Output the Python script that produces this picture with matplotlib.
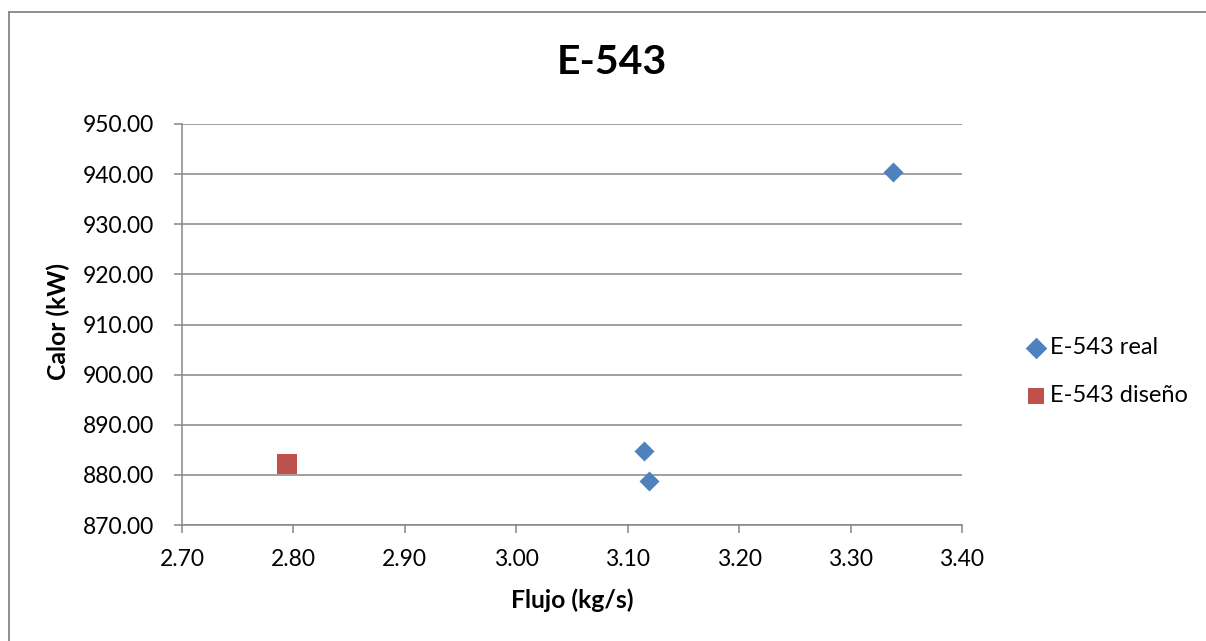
import matplotlib
matplotlib.use("Agg")
import matplotlib.pyplot as plt
from matplotlib.lines import Line2D

# Heat duty vs. mass flow for exchanger E-543
title = "E-543"
x_label = "Flujo (kg/s)"
y_label = "Calor (kW)"

real_label = "E-543 real"
real_flow = [3.338, 3.115, 3.119]
real_heat = [940.5, 884.8, 878.7]

design_label = "E-543 diseño"
design_flow = [2.794]
design_heat = [882.1]

x_ticks = [2.70, 2.80, 2.90, 3.00, 3.10, 3.20, 3.30, 3.40]
y_ticks = [870, 880, 890, 900, 910, 920, 930, 940, 950]

BLUE = "#4F81BD"
RED = "#C0504D"
GRAY = "#868686"

plt.rcParams["font.family"] = ["Lato", "DejaVu Sans"]

W, H = 1206, 641
fig = plt.figure(figsize=(W / 100, H / 100), dpi=100)
fig.patch.set_facecolor("white")

# chart frame (left and top edges)
fig.add_artist(Line2D([8.5 / W, 8.5 / W], [0, 1 - 11.5 / H], transform=fig.transFigure,
                      color=GRAY, lw=1.3))
fig.add_artist(Line2D([8.5 / W, 1], [1 - 11.5 / H, 1 - 11.5 / H], transform=fig.transFigure,
                      color=GRAY, lw=1.3))

left, right, bottom, top = 182 / W, 962 / W, 1 - 525 / H, 1 - 124 / H
ax = fig.add_axes([left, bottom, right - left, top - bottom])

ax.scatter(real_flow, real_heat, marker="D", s=10.2 ** 2, color=BLUE, label=real_label,
           zorder=3, linewidths=0)
ax.scatter(design_flow, design_heat, marker="s", s=14.4 ** 2, color=RED, label=design_label,
           zorder=3, linewidths=0)

ax.set_xlim(2.70, 3.40)
ax.set_ylim(870, 950)
ax.set_xticks(x_ticks)
ax.set_yticks(y_ticks)
ax.set_xticklabels([f"{v:.2f}" for v in x_ticks])
ax.set_yticklabels([f"{v:.2f}" for v in y_ticks])

ax.grid(axis="y", color=GRAY, lw=1.1)
ax.set_axisbelow(True)
for side in ("top", "right"):
    ax.spines[side].set_visible(False)
for side in ("left", "bottom"):
    ax.spines[side].set_color(GRAY)
    ax.spines[side].set_linewidth(1.1)

ax.tick_params(axis="both", direction="out", length=6, width=1.1, color=GRAY,
               labelsize=16.5, labelcolor="black")
ax.tick_params(axis="x", pad=11)
ax.tick_params(axis="y", pad=14)

fig.text(612 / W, 1 - 62 / H, title, ha="center", va="center", fontsize=29.5,
         fontweight="bold")
fig.text(572 / W, 1 - 600 / H, x_label, ha="center", va="center", fontsize=17.8,
         fontweight="bold")
fig.text(58 / W, 1 - 321 / H, y_label, ha="center", va="center", fontsize=17.8,
         fontweight="bold", rotation=90)

leg = ax.legend(loc="center left", bbox_to_anchor=(1022 / W, 1 - 371.5 / H),
                bbox_transform=fig.transFigure, frameon=False, fontsize=17,
                handletextpad=0.0, labelspacing=1.15, handlelength=1.2,
                borderpad=0, borderaxespad=0)
for h in leg.legend_handles:
    h.set_sizes([11 ** 2])

fig.savefig("out.png", dpi=100, facecolor="white")
